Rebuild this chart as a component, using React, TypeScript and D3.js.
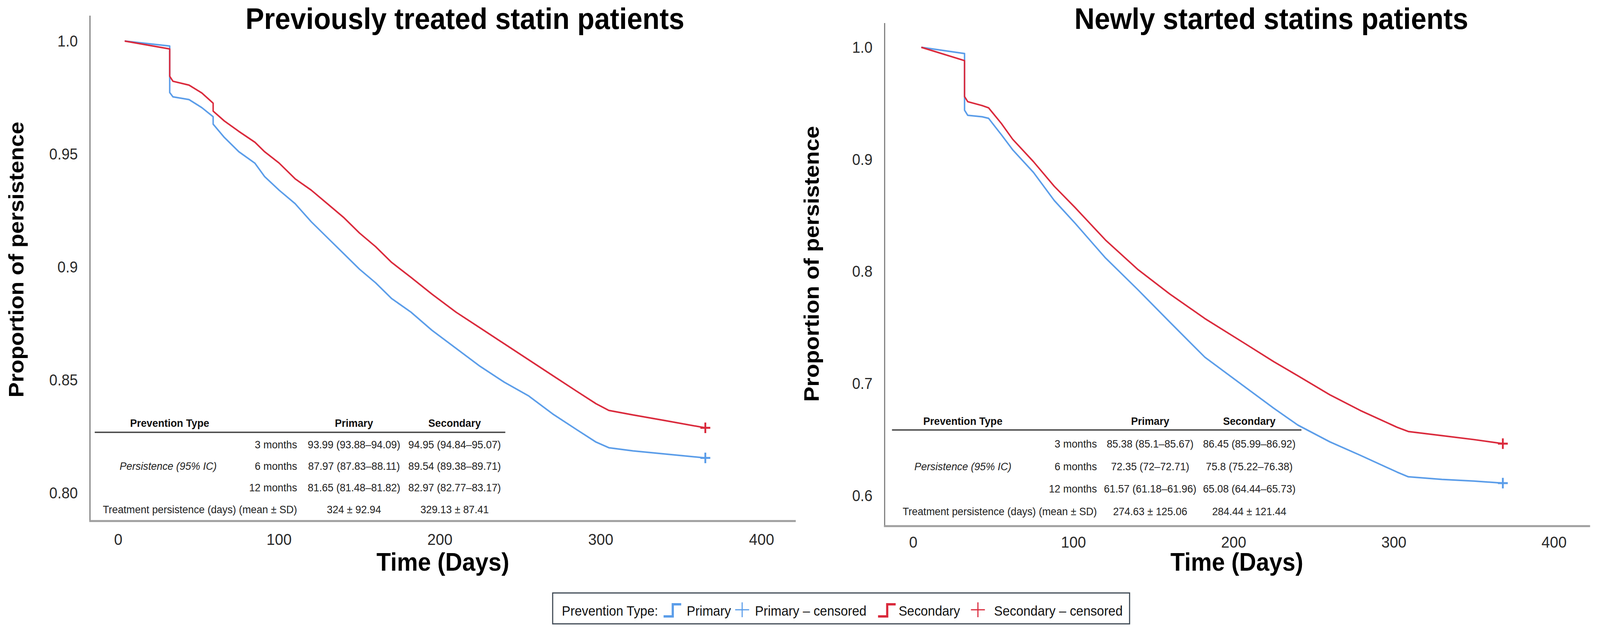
import React from 'react';
import * as d3 from 'd3';

// Kaplan-Meier persistence curves
const prevDays = [4, 32, 32, 34, 44, 52, 59, 59, 66, 75, 85, 91, 100, 110, 120, 130, 140, 150, 160, 170, 182, 195, 210, 225, 240, 255, 270, 285, 297, 305, 320, 340, 365];
const prevPrimary = [1.0, 0.9978, 0.9772, 0.9753, 0.9741, 0.9705, 0.9665, 0.9632, 0.9573, 0.951, 0.9459, 0.94, 0.934, 0.928, 0.92, 0.913, 0.906, 0.899, 0.893, 0.886, 0.88, 0.872, 0.864, 0.856, 0.849, 0.843, 0.835, 0.828, 0.8225, 0.82, 0.8186, 0.8172, 0.8155];
const prevSecondary = [1.0, 0.9965, 0.9844, 0.9822, 0.9805, 0.977, 0.9725, 0.969, 0.9646, 0.96, 0.9552, 0.951, 0.946, 0.939, 0.934, 0.928, 0.922, 0.915, 0.909, 0.902, 0.8954, 0.888, 0.88, 0.873, 0.866, 0.859, 0.852, 0.845, 0.8395, 0.8365, 0.8345, 0.832, 0.8288];

const newDays = [5, 32, 32, 34, 43, 47, 55, 62, 75, 88, 101, 120, 140, 160, 182, 207, 225, 240, 260, 279, 302, 309, 330, 350, 368];
const newPrimary = [1.0, 0.9944, 0.9439, 0.9393, 0.938, 0.9366, 0.922, 0.9086, 0.8884, 0.8633, 0.843, 0.812, 0.784, 0.755, 0.7235, 0.697, 0.678, 0.663, 0.648, 0.636, 0.621, 0.6168, 0.6145, 0.613, 0.6112];
const newSecondary = [1.0, 0.9881, 0.956, 0.9515, 0.948, 0.946, 0.932, 0.918, 0.898, 0.876, 0.857, 0.828, 0.802, 0.78, 0.758, 0.7357, 0.7195, 0.707, 0.69, 0.676, 0.661, 0.6572, 0.6535, 0.65, 0.6464];

const xTicks = [0, 100, 200, 300, 400];
const prevYTicks = [1.0, 0.95, 0.9, 0.85, 0.8];
const prevYLabels = ['1.0', '0.95', '0.9', '0.85', '0.80'];
const newYTicks = [1.0, 0.9, 0.8, 0.7, 0.6];
const newYLabels = ['1.0', '0.9', '0.8', '0.7', '0.6'];

// summary tables
const monthRows = ['3 months', '6 months', '12 months'];
const prevPrimaryCI = ['93.99 (93.88–94.09)', '87.97 (87.83–88.11)', '81.65 (81.48–81.82)'];
const prevSecondaryCI = ['94.95 (94.84–95.07)', '89.54 (89.38–89.71)', '82.97 (82.77–83.17)'];
const prevMeanSD = ['324 ± 92.94', '329.13 ± 87.41'];
const newPrimaryCI = ['85.38 (85.1–85.67)', '72.35 (72–72.71)', '61.57 (61.18–61.96)'];
const newSecondaryCI = ['86.45 (85.99–86.92)', '75.8 (75.22–76.38)', '65.08 (64.44–65.73)'];
const newMeanSD = ['274.63 ± 125.06', '284.44 ± 121.44'];

const legendLabels = ['Primary', 'Primary – censored', 'Secondary', 'Secondary – censored'];

const W = 4357;
const H = 1622;
const FONT = "'Liberation Sans', Arial, Helvetica, sans-serif";
const BLUE = '#5b9de9';
const RED = '#da2a3c';

interface TableLayout {
  x0: number; x1: number; headX: number; labelRight: number; col1: number; col2: number;
  head: number; rule: number; rows: number[]; mean: number; persX: number;
}

interface PanelProps {
  title: string;
  titleX: number;
  left: number;
  right: number;
  top: number;
  bottom: number;
  xRange: [number, number];
  yDomain: [number, number];
  yRange: [number, number];
  yTicks: number[];
  yLabels: string[];
  yTitleX: number;
  yTitleY: number;
  xLabelY: number;
  xTitleX: number;
  days: number[];
  primary: number[];
  secondary: number[];
  table: TableLayout;
  primaryCI: string[];
  secondaryCI: string[];
  meanSD: string[];
}

const Plus = ({ x, y, s, color, w }: { x: number; y: number; s: number; color: string; w: number }) => (
  <path d={`M${x - s / 2},${y}h${s}M${x},${y - s / 2}v${s}`} stroke={color} strokeWidth={w} fill="none" />
);

const Panel: React.FC<PanelProps> = (p) => {
  const x = d3.scaleLinear().domain([0, 400]).range(p.xRange);
  const y = d3.scaleLinear().domain(p.yDomain).range(p.yRange);
  const line = d3.line<number>()
    .x((_, i) => x(p.days[i]))
    .y((d) => y(d));
  const last = p.days.length - 1;
  const t = p.table;
  const cell = { fontFamily: FONT, fontSize: 28, fill: '#222' } as const;

  return (
    <g>
      <text x={p.titleX} y={74} textAnchor="middle" fontFamily={FONT} fontWeight="bold" fontSize={76} fill="#000">{p.title}</text>

      {/* axes */}
      <line x1={p.left} x2={p.left} y1={p.top} y2={p.bottom} stroke="#7a7a7a" strokeWidth={3} />
      <line x1={p.left - 2} x2={p.right} y1={p.bottom} y2={p.bottom} stroke="#9e9e9e" strokeWidth={5} />

      {p.yTicks.map((v, i) => (
        <text key={v} x={p.left - 33} y={y(v)} textAnchor="end" dominantBaseline="central" fontFamily={FONT} fontSize={40} fill="#2a2a2a">{p.yLabels[i]}</text>
      ))}
      {xTicks.map((v) => (
        <text key={v} x={x(v)} y={p.xLabelY} textAnchor="middle" dominantBaseline="central" fontFamily={FONT} fontSize={41} fill="#2a2a2a">{v}</text>
      ))}

      <text transform={`translate(${p.yTitleX},${p.yTitleY}) rotate(-90)`} textAnchor="middle" fontFamily={FONT} fontWeight="bold" fontSize={58} fill="#000">Proportion of persistence</text>
      <text x={p.xTitleX} y={1460} textAnchor="middle" fontFamily={FONT} fontWeight="bold" fontSize={64} fill="#000">Time (Days)</text>

      {/* table */}
      <g>
        <text x={t.headX} y={t.head} textAnchor="middle" dominantBaseline="central" {...cell} fontWeight="bold" fill="#111">Prevention Type</text>
        <text x={t.col1} y={t.head} textAnchor="middle" dominantBaseline="central" {...cell} fontWeight="bold" fill="#111">Primary</text>
        <text x={t.col2} y={t.head} textAnchor="middle" dominantBaseline="central" {...cell} fontWeight="bold" fill="#111">Secondary</text>
        <line x1={t.x0} x2={t.x1} y1={t.rule} y2={t.rule} stroke="#444" strokeWidth={3.5} />
        <text x={t.persX} y={t.rows[1]} textAnchor="middle" dominantBaseline="central" {...cell} fontStyle="italic">Persistence (95% IC)</text>
        {monthRows.map((m, i) => (
          <g key={m}>
            <text x={t.labelRight} y={t.rows[i]} textAnchor="end" dominantBaseline="central" {...cell}>{m}</text>
            <text x={t.col1} y={t.rows[i]} textAnchor="middle" dominantBaseline="central" {...cell}>{p.primaryCI[i]}</text>
            <text x={t.col2} y={t.rows[i]} textAnchor="middle" dominantBaseline="central" {...cell}>{p.secondaryCI[i]}</text>
          </g>
        ))}
        <text x={t.labelRight} y={t.mean} textAnchor="end" dominantBaseline="central" {...cell}>Treatment persistence (days) (mean ± SD)</text>
        <text x={t.col1} y={t.mean} textAnchor="middle" dominantBaseline="central" {...cell}>{p.meanSD[0]}</text>
        <text x={t.col2} y={t.mean} textAnchor="middle" dominantBaseline="central" {...cell}>{p.meanSD[1]}</text>
      </g>

      {/* curves */}
      <path d={line(p.primary) || ''} fill="none" stroke={BLUE} strokeWidth={4} strokeLinejoin="round" />
      <path d={line(p.secondary) || ''} fill="none" stroke={RED} strokeWidth={4} strokeLinejoin="round" />
      <Plus x={x(p.days[last])} y={y(p.primary[last])} s={27} color={BLUE} w={5} />
      <Plus x={x(p.days[last])} y={y(p.secondary[last])} s={27} color={RED} w={5} />
    </g>
  );
};

const Legend: React.FC = () => {
  const ty = 1575;
  const txt = { fontFamily: FONT, fontSize: 35, fill: '#111' } as const;
  const step = (x0: number, c: string) => (
    <path d={`M${x0},1577H${x0 + 25}V1546H${x0 + 48}`} fill="none" stroke={c} strokeWidth={6} />
  );
  return (
    <g>
      <rect x={1505} y={1517} width={1571} height={79} fill="#fff" stroke="#3c4752" strokeWidth={3} />
      <text x={1530} y={ty} {...txt}>Prevention Type:</text>
      {step(1807, BLUE)}
      <text x={1870} y={ty} {...txt}>{legendLabels[0]}</text>
      <Plus x={2021} y={1560} s={38} color={BLUE} w={3} />
      <text x={2056} y={ty} {...txt}>{legendLabels[1]}</text>
      {step(2391, RED)}
      <text x={2447} y={ty} {...txt}>{legendLabels[2]}</text>
      <Plus x={2663} y={1560} s={38} color={RED} w={3} />
      <text x={2707} y={ty} {...txt}>{legendLabels[3]}</text>
    </g>
  );
};

export default function App() {
  // stretch the drawing over the whole viewport, whatever its CSS size is
  return (
    <div style={{ position: 'fixed', left: 0, top: 0, width: '100vw', height: '100vh', background: '#fff' }}>
      <svg width="100%" height="100%" viewBox={`0 0 ${W} ${H}`} preserveAspectRatio="none" style={{ display: 'block' }}>
        <rect width={W} height={H} fill="#fff" />
        <Panel
          title="Previously treated statin patients"
          titleX={1266}
          left={245} right={2167} top={40} bottom={1333}
          xRange={[322, 2074]}
          yDomain={[0.8, 1.0]} yRange={[1261, 105]}
          yTicks={prevYTicks} yLabels={prevYLabels}
          yTitleX={64} yTitleY={664}
          xLabelY={1380} xTitleX={1206}
          days={prevDays} primary={prevPrimary} secondary={prevSecondary}
          table={{ x0: 258, x1: 1376, headX: 462, labelRight: 809, col1: 964, col2: 1238, head: 1082, rule: 1106, rows: [1137, 1192, 1247], mean: 1303, persX: 458 }}
          primaryCI={prevPrimaryCI} secondaryCI={prevSecondaryCI} meanSD={prevMeanSD}
        />
        <Panel
          title="Newly started statins patients"
          titleX={3462}
          left={2409} right={4330} top={59} bottom={1346}
          xRange={[2487, 4232]}
          yDomain={[0.6, 1.0]} yRange={[1268, 121]}
          yTicks={newYTicks} yLabels={newYLabels}
          yTitleX={2230} yTitleY={675}
          xLabelY={1387} xTitleX={3368}
          days={newDays} primary={newPrimary} secondary={newSecondary}
          table={{ x0: 2429, x1: 3544, headX: 2622, labelRight: 2987, col1: 3132, col2: 3402, head: 1077, rule: 1100, rows: [1135, 1193, 1250], mean: 1308, persX: 2622 }}
          primaryCI={newPrimaryCI} secondaryCI={newSecondaryCI} meanSD={newMeanSD}
        />
        <Legend />
      </svg>
    </div>
  );
}
